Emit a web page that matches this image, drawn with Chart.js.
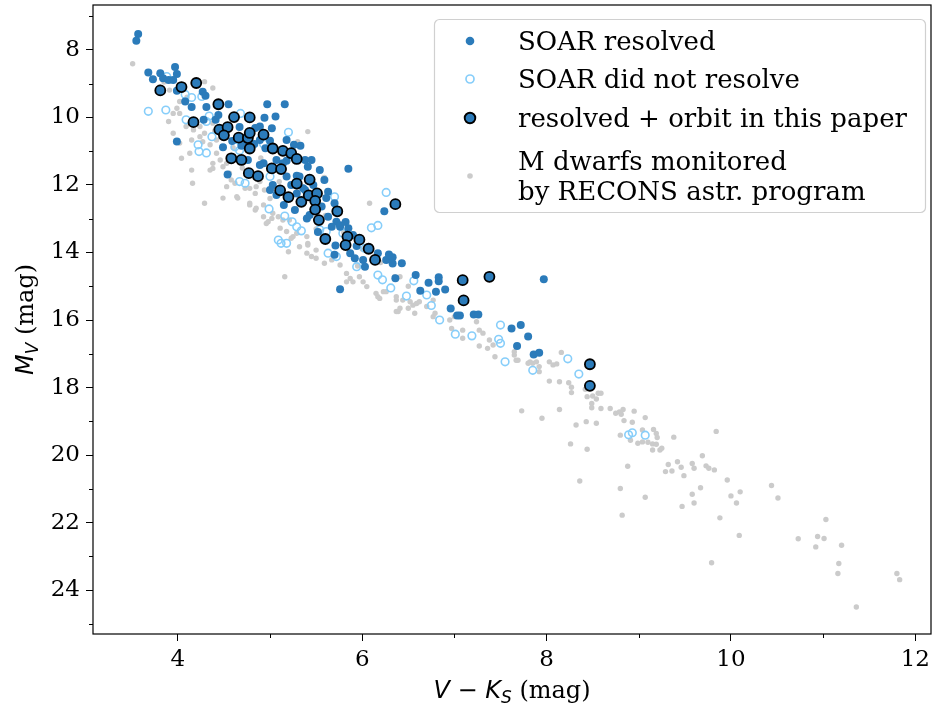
<!DOCTYPE html>
<html>
<head>
<meta charset="utf-8">
<script src="https://cdn.jsdelivr.net/npm/chart.js@4/dist/chart.umd.min.js"></script>
<style>
  body { margin: 0; background: #fff; }
  #wrap { width: 932px; height: 710px; }
</style>
</head>
<body>
<div id="wrap"><canvas id="cmd" width="932" height="710"></canvas></div>
<script>
// axis ranges and ticks
const xRange = [3.08, 12.17];
const yRange = [6.67, 25.3];
const xTicks = [4, 6, 8, 10, 12];
const xMinor = [5, 7, 9, 11];
const yTicks = [8, 10, 12, 14, 16, 18, 20, 22, 24];
const yMinor = [7, 9, 11, 13, 15, 17, 19, 21, 23, 25];

// [V-Ks, Mv]
const soarResolved = [
  [3.57,7.53],[3.55,7.73],[3.68,8.67],[3.73,8.87],[3.81,8.69],[3.84,8.84],[3.90,8.89],[3.97,8.51],
  [3.99,8.71],[3.95,8.89],[3.99,9.21],[4.08,9.53],[4.15,9.69],[4.27,9.24],[4.30,9.36],[4.31,9.69],
  [4.55,9.61],[4.97,9.61],[5.16,9.61],[5.06,9.97],[4.41,10.07],[4.44,9.93],[3.99,10.71],[4.49,10.88],
  [5.02,10.32],[5.33,10.84],[4.54,11.69],[4.71,11.26],[4.83,10.79],[4.89,10.27],[4.89,10.67],[5.00,10.69],
  [4.69,10.84],[4.76,11.26],[4.93,11.36],[4.95,10.91],[5.07,11.26],[5.18,11.28],[5.38,11.26],[5.41,11.46],
  [5.29,11.73],[5.18,11.75],[5.23,12.00],[5.36,12.10],[5.85,11.52],[6.24,12.78],[4.71,10.81],[4.89,11.41],
  [5.14,11.36],[5.32,11.75],[5.03,12.00],[5.00,12.15],[5.07,12.30],[5.29,12.25],[5.38,12.15],[5.63,12.20],
  [5.61,12.39],[5.70,12.54],[5.56,12.64],[5.40,12.99],[5.63,12.94],[5.72,13.09],[5.67,13.24],[5.76,13.24],
  [5.85,13.28],[5.90,13.48],[5.71,13.79],[5.70,14.07],[5.87,14.02],[5.92,14.17],[6.01,14.22],[6.03,14.42],
  [6.17,14.02],[6.26,14.22],[5.76,15.09],[6.29,14.06],[6.33,14.14],[6.33,14.33],[6.43,14.32],[6.36,14.76],
  [6.58,14.67],[6.72,14.90],[6.83,14.73],[6.83,14.85],[6.63,15.13],[6.80,15.16],[6.90,15.10],[6.96,15.66],
  [7.03,15.87],[7.06,15.87],[7.21,15.84],[7.26,15.84],[7.97,14.79],[7.62,16.25],[7.72,16.15],[7.80,16.49],
  [7.68,16.77],[7.86,17.02],[7.92,16.97],[5.76,13.19],[4.84,10.31],[4.67,10.28],[4.94,10.01],[4.59,10.70],
  [5.18,10.67],[5.26,10.81],[5.45,11.26],[5.54,11.56],[5.59,11.85],[5.47,12.00],[5.15,12.59],[5.27,12.74],
  [5.43,12.89],[5.82,13.10],[5.52,13.39],[5.94,13.81],[4.28,10.07]
];

const soarNotResolved = [
  [3.68,9.82],[3.87,9.78],[3.88,8.79],[4.08,9.32],[4.15,9.41],[4.26,9.38],[4.34,9.96],[4.31,10.12],
  [4.09,10.07],[4.22,10.81],[4.23,11.01],[4.31,11.05],[4.37,10.57],[4.68,9.88],[5.20,10.44],[4.93,10.79],
  [4.62,10.87],[4.67,10.98],[5.00,11.75],[4.67,11.90],[4.73,11.95],[4.99,12.71],[5.16,12.92],[5.29,13.24],
  [5.34,13.36],[5.12,13.73],[5.18,13.73],[5.09,13.63],[5.70,12.35],[5.61,13.38],[5.79,13.43],[6.26,12.22],
  [6.10,13.27],[6.17,13.20],[5.24,13.09],[5.54,13.33],[5.63,14.02],[5.72,14.12],[5.94,14.42],[6.17,14.67],
  [6.22,14.81],[6.31,15.05],[6.48,15.29],[6.56,14.84],[6.70,15.26],[6.75,15.57],[6.84,16.00],[7.01,16.42],
  [7.19,16.47],[7.50,16.15],[7.48,16.57],[7.50,16.69],[7.55,17.24],[7.85,17.49],[8.23,17.15],[8.35,17.60],
  [8.89,19.40],[8.93,19.34],[9.07,19.41],[6.03,13.88]
];

const withOrbit = [
  [3.81,9.20],[4.04,9.10],[4.20,8.98],[4.44,9.61],[4.17,10.14],[4.61,9.99],[4.78,10.00],[4.45,10.36],
  [4.54,10.29],[4.50,10.53],[4.66,10.60],[4.76,10.61],[4.78,10.46],[4.93,10.51],[4.78,10.92],[5.03,10.92],
  [5.14,10.99],[5.23,11.06],[5.29,11.23],[4.58,11.21],[4.69,11.26],[5.02,11.51],[5.12,11.53],[4.77,11.65],
  [4.87,11.74],[5.29,11.96],[5.43,11.84],[5.11,12.16],[5.20,12.36],[5.34,12.50],[5.42,12.31],[5.51,12.25],
  [5.49,12.47],[5.49,12.73],[5.53,13.04],[5.73,12.78],[5.60,13.60],[5.84,13.53],[5.97,13.62],[5.82,13.78],
  [6.07,13.89],[6.14,14.22],[6.36,12.57],[7.09,14.82],[7.38,14.72],[7.10,15.42],[8.47,17.31],[8.47,17.95]
];

const reconsDwarfs = [
  [8.59,18.17],[8.59,18.62],[8.69,18.62],[8.75,18.76],[8.79,18.72],[8.83,18.65],[8.81,18.79],[8.95,18.70],
  [8.84,18.98],[8.93,19.03],[9.07,18.89],[8.80,19.41],[8.91,19.56],[8.99,19.65],[9.04,19.26],[9.16,19.24],
  [9.19,19.36],[9.20,19.48],[9.04,19.61],[9.10,19.62],[9.15,19.67],[9.19,19.68],[9.15,19.85],[9.23,19.85],
  [9.25,19.80],[9.38,19.47],[9.84,19.30],[8.88,20.33],[8.80,20.99],[8.82,21.78],[9.07,21.25],[9.32,20.28],
  [9.29,20.49],[9.36,20.47],[9.42,20.20],[9.46,20.36],[9.49,20.61],[9.58,20.25],[9.60,20.39],[9.69,20.02],
  [9.73,20.32],[9.76,20.39],[9.82,20.44],[9.58,21.16],[9.60,21.42],[9.67,20.97],[9.47,21.52],[9.96,20.74],
  [10.00,21.21],[10.10,21.09],[10.06,21.42],[9.88,21.86],[10.09,22.38],[9.79,23.19],[10.44,20.90],[10.51,21.27],
  [11.03,21.91],[10.73,22.48],[10.94,22.41],[10.92,22.72],[11.01,22.47],[11.20,22.67],[11.17,23.21],[11.16,23.51],
  [11.36,24.50],[11.80,23.51],[11.83,23.69],
  [8.16,16.96],[8.03,17.24],[8.07,17.33],[8.11,17.30],[8.03,17.81],[8.14,17.83],[8.24,17.86],[8.27,17.99],
  [8.27,18.15],[8.42,18.05],[8.44,18.27],[8.50,18.25],[8.56,18.17],[8.54,18.34],[8.49,18.47],[8.49,18.60],
  [7.73,18.69],[7.95,18.91],[8.14,18.65],[8.32,19.11],[8.43,19.01],[8.54,19.06],[8.26,19.67],[8.44,19.83],
  [8.36,20.77],[7.65,16.94],[7.69,17.19],[7.82,17.24],[7.85,17.28],[7.92,17.53],
  [6.19,15.36],[6.26,15.16],[6.37,15.41],[6.41,15.65],[6.39,15.75],[6.50,15.65],[6.55,15.56],[6.59,15.51],
  [6.62,15.46],[6.57,15.80],[6.77,15.41],[6.79,15.80],[6.77,15.90],[6.95,16.00],[6.97,16.25],[7.09,16.30],
  [7.09,16.54],[7.24,16.05],[7.27,16.30],[7.31,16.39],[7.27,16.77],[7.36,16.84],[7.38,16.59],[7.42,16.74],
  [7.44,17.09],[7.65,17.04],[7.67,17.19],[7.80,17.28],[7.89,17.24],[7.92,17.38],
  [5.59,11.78],[6.08,12.54],[5.16,14.72],[4.78,12.10],[4.84,12.25],[4.78,12.54],[4.84,12.74],[4.93,12.94],
  [4.98,13.09],[5.02,12.99],[5.14,13.04],[5.11,13.28],[5.18,13.38],[5.25,13.53],[5.23,13.58],[5.20,13.98],
  [5.32,13.83],[5.40,14.02],[5.45,14.12],[5.50,14.17],[5.41,13.78],[5.50,13.93],[5.59,14.32],[5.67,14.22],
  [5.76,14.37],[5.83,14.62],[5.87,14.77],[5.90,14.87],[5.97,14.72],[6.01,14.87],[5.83,14.87],[6.05,15.01],
  [6.15,15.21],[6.17,15.31],[6.23,15.16],[6.37,15.31],[6.44,15.41],[6.52,15.46],[6.37,15.75],[6.35,14.72],
  [6.41,14.72],
  [4.38,9.13],[3.90,10.12],[3.95,10.47],[4.04,11.21],[4.15,10.67],[4.15,11.56],[4.35,11.56],[4.38,11.51],
  [4.16,11.95],[4.29,12.54],[4.49,12.39],[4.64,12.35],[4.65,12.39],[4.78,12.59],[4.85,12.69],[4.93,12.59],
  [5.03,12.84],[5.09,12.94],[4.96,13.14],[5.21,13.04],[5.29,13.43],[5.40,13.53],[5.41,13.73],[5.58,11.80],
  [5.41,10.42],[4.56,11.65],[4.58,11.85],[4.53,12.05],[4.62,11.95],[4.73,12.10],[4.85,12.05],[4.89,11.90],
  [4.94,12.15],[3.99,9.73],[3.95,9.88],[4.02,9.88],[4.09,10.27],[4.17,10.37],[4.24,10.27],[4.29,10.47],
  [4.38,10.17],[4.42,10.67],[4.46,11.26],[4.53,11.36],
  [3.51,8.41],[3.91,9.19],[4.02,9.53],[4.29,8.94],[4.02,10.76],[4.13,11.06],[4.24,10.57],[4.27,10.72],
  [4.35,10.81],[4.42,11.06],[4.38,11.36],[4.49,11.46],[5.30,10.72],
  [4.60,10.90],[4.90,11.20],[5.10,11.90],[5.30,12.20],[5.60,12.90],[5.80,13.40],[6.00,13.90],[6.20,14.30],
  [4.40,10.40],[4.70,11.50],[3.80,9.10],[4.10,9.40],[5.00,12.40],[5.50,13.30],[6.50,15.00],[7.00,15.90],
  [6.70,15.60],[5.95,14.40],[3.85,8.95]
];

const blue = "#2b7bba";
const lightBlue = "#87cefa";
const grey = "#cbcbcb";

function toPoints(arr) {
  return arr.map((p) => ({ x: p[0], y: p[1] }));
}

// draws a row of text pieces (mixed fonts / subscripts) starting at x
function drawPieces(ctx, pieces, x, y) {
  let cx = x;
  pieces.forEach((p) => {
    ctx.font = p.font;
    ctx.fillText(p.t, cx, y + (p.dy || 0));
    cx += ctx.measureText(p.t).width;
  });
  return cx - x;
}
function piecesWidth(ctx, pieces) {
  let w = 0;
  pieces.forEach((p) => {
    ctx.font = p.font;
    w += ctx.measureText(p.t).width;
  });
  return w;
}

const xTitle = [
  { t: "V", font: "italic 24px 'DejaVu Sans'" },
  { t: " \u2212 ", font: "24px 'DejaVu Sans'" },
  { t: "K", font: "italic 24px 'DejaVu Sans'" },
  { t: "S", font: "italic 17px 'DejaVu Sans'", dy: 5 },
  { t: " (mag)", font: "24px 'DejaVu Serif'" },
];
const yTitle = [
  { t: "M", font: "italic 24px 'DejaVu Sans'" },
  { t: "V", font: "italic 17px 'DejaVu Sans'", dy: 5 },
  { t: " (mag)", font: "24px 'DejaVu Serif'" },
];

const legendRows = [
  { lines: ["SOAR resolved"], y: 41, marker: "blue" },
  { lines: ["SOAR did not resolve"], y: 79, marker: "open" },
  { lines: ["resolved + orbit in this paper"], y: 118, marker: "orbit" },
  { lines: ["M dwarfs monitored", "by RECONS astr. program"], y: 176, marker: "grey" },
];

const decor = {
  id: "decor",
  afterDraw(chart) {
    const ctx = chart.ctx;
    const a = chart.chartArea;
    const xs = chart.scales.x;
    const ys = chart.scales.y;
    ctx.save();
    // frame
    ctx.strokeStyle = "#000";
    ctx.lineWidth = 1.2;
    ctx.strokeRect(a.left, a.top, a.right - a.left, a.bottom - a.top);
    // minor ticks
    ctx.lineWidth = 1;
    ctx.beginPath();
    xMinor.forEach((v) => {
      const px = Math.round(xs.getPixelForValue(v)) + 0.5;
      ctx.moveTo(px, a.bottom);
      ctx.lineTo(px, a.bottom + 4);
    });
    yMinor.forEach((v) => {
      const py = Math.round(ys.getPixelForValue(v)) + 0.5;
      ctx.moveTo(a.left, py);
      ctx.lineTo(a.left - 4, py);
    });
    ctx.stroke();

    // axis titles
    ctx.fillStyle = "#000";
    ctx.textBaseline = "alphabetic";
    ctx.textAlign = "left";
    const xw = piecesWidth(ctx, xTitle);
    drawPieces(ctx, xTitle, (a.left + a.right) / 2 - xw / 2, 698);
    const yw = piecesWidth(ctx, yTitle);
    ctx.save();
    ctx.translate(33, (a.top + a.bottom) / 2);
    ctx.rotate(-Math.PI / 2);
    drawPieces(ctx, yTitle, -yw / 2, 0);
    ctx.restore();

    // legend box
    const bx = 434, by = 19, bw = 491, bh = 193, r = 5;
    ctx.beginPath();
    ctx.roundRect(bx + 0.5, by + 0.5, bw, bh, r);
    ctx.fillStyle = "rgba(255,255,255,0.85)";
    ctx.fill();
    ctx.strokeStyle = "#d0d0d0";
    ctx.lineWidth = 1.2;
    ctx.stroke();

    legendRows.forEach((row) => {
      const mx = 470;
      ctx.beginPath();
      if (row.marker === "blue") {
        ctx.arc(mx, row.y, 4.3, 0, Math.PI * 2);
        ctx.fillStyle = blue;
        ctx.fill();
      } else if (row.marker === "open") {
        ctx.arc(mx, row.y, 4, 0, Math.PI * 2);
        ctx.strokeStyle = lightBlue;
        ctx.lineWidth = 1.7;
        ctx.stroke();
      } else if (row.marker === "orbit") {
        ctx.arc(mx, row.y, 5.3, 0, Math.PI * 2);
        ctx.fillStyle = blue;
        ctx.fill();
        ctx.strokeStyle = "#000";
        ctx.lineWidth = 1.9;
        ctx.stroke();
      } else {
        ctx.arc(mx, row.y, 2.8, 0, Math.PI * 2);
        ctx.fillStyle = grey;
        ctx.fill();
      }
      ctx.fillStyle = "#000";
      ctx.font = "26px 'DejaVu Serif'";
      ctx.textBaseline = "alphabetic";
      const n = row.lines.length;
      row.lines.forEach((line, i) => {
        const base = row.y + 9 + (i - (n - 1) / 2) * 30;
        ctx.fillText(line, 518, base);
      });
    });
    ctx.restore();
  },
};

const ctx = document.getElementById("cmd");
new Chart(ctx, {
  type: "scatter",
  data: {
    datasets: [
      {
        label: "SOAR resolved",
        data: toPoints(soarResolved),
        backgroundColor: blue,
        borderWidth: 0,
        pointRadius: 4,
        order: 1,
      },
      {
        label: "SOAR did not resolve",
        data: toPoints(soarNotResolved),
        backgroundColor: "rgba(0,0,0,0)",
        borderColor: lightBlue,
        borderWidth: 1.6,
        pointRadius: 3.8,
        order: 2,
      },
      {
        label: "resolved + orbit in this paper",
        data: toPoints(withOrbit),
        backgroundColor: blue,
        borderColor: "#000",
        borderWidth: 1.8,
        pointRadius: 5,
        order: 0,
      },
      {
        label: "M dwarfs monitored by RECONS astr. program",
        data: toPoints(reconsDwarfs),
        backgroundColor: grey,
        borderWidth: 0,
        pointRadius: 2.7,
        order: 3,
      },
    ],
  },
  options: {
    responsive: false,
    animation: false,
    devicePixelRatio: 1,
    events: [],
    layout: { autoPadding: false, padding: { top: 5, right: 1, left: 0, bottom: 0 } },
    plugins: {
      legend: { display: false },
      tooltip: { enabled: false },
    },
    scales: {
      x: {
        type: "linear",
        min: xRange[0],
        max: xRange[1],
        afterBuildTicks: (scale) => {
          scale.ticks = xTicks.map((v) => ({ value: v }));
        },
        afterFit: (scale) => {
          scale.height = 76;
          scale.paddingLeft = 0;
          scale.paddingRight = 0;
        },
        border: { display: false },
        grid: { drawOnChartArea: false, drawTicks: true, tickLength: 7, color: "#000", lineWidth: 1 },
        ticks: {
          color: "#000",
          font: { family: "'DejaVu Serif'", size: 23 },
          padding: 5,
          maxRotation: 0,
          autoSkip: false,
        },
      },
      y: {
        type: "linear",
        reverse: true,
        min: yRange[0],
        max: yRange[1],
        afterBuildTicks: (scale) => {
          scale.ticks = yTicks.map((v) => ({ value: v }));
        },
        afterFit: (scale) => {
          scale.width = 93;
          scale.paddingTop = 0;
          scale.paddingBottom = 0;
        },
        border: { display: false },
        grid: { drawOnChartArea: false, drawTicks: true, tickLength: 7, color: "#000", lineWidth: 1 },
        ticks: {
          color: "#000",
          font: { family: "'DejaVu Serif'", size: 23 },
          padding: 6,
          autoSkip: false,
        },
      },
    },
  },
  plugins: [decor],
});
</script>
</body>
</html>
